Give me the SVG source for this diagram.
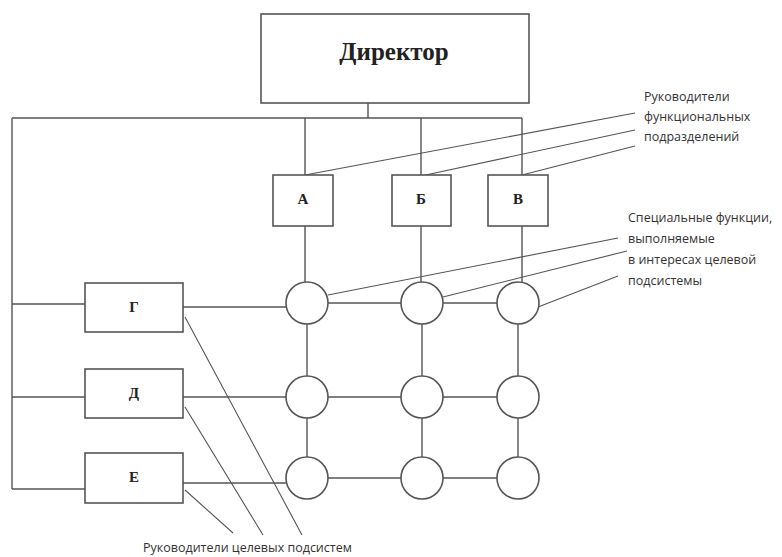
<svg xmlns="http://www.w3.org/2000/svg" width="782" height="557" viewBox="0 0 782 557">
<style>
.box{fill:#fff;stroke:#555;stroke-width:1.6}
.c{fill:#fff;stroke:#555;stroke-width:1.6}
.ln{fill:none;stroke:#555;stroke-width:1.4}
.lt{fill:none;stroke:#555;stroke-width:1.1}
.big{font-family:"Liberation Serif",serif;font-weight:bold;font-size:25px;fill:#222;text-anchor:middle}
.lbl{font-family:"Liberation Serif",serif;font-weight:bold;font-size:15px;fill:#222;text-anchor:middle}
.sm{font-family:"Open Sans",sans-serif;font-size:12.5px;fill:#333}
</style>
<rect width="782" height="557" fill="#fff"/>
<g id="connectors">
<path class="ln" d="M368,103V118M12,118H522M305,118V175M421,118V175M522,118V175"/>
<path class="ln" d="M12,118V489M12,304H85M12,397H85M12,489H85"/>
<path class="ln" d="M305,226V282M421,226V282M522,226V282"/>
<path class="ln" d="M183,307H286M183,397H286M183,483H286"/>
<path class="ln" d="M328,303H401M443,303H497M328,397H401M443,397H497M328,478H401M443,478H497"/>
<path class="ln" d="M307,324V376M422,324V376M518,324V376M307,418V457M422,418V457M518,418V457"/>
<path class="lt" d="M635,113L305,175M635,130L421,176M635,146L522,175"/>
<path class="lt" d="M618,238L328,295M627,251L443,297M618,276L538,307"/>
<path class="lt" d="M185,317L302,535M185,407L263,535M185,490L233,533"/>
</g>
<g id="director"><rect class="box" x="261" y="14" width="268" height="89"/><text class="big" x="394" y="60">Директор</text></g>
<g id="A"><rect class="box" x="273" y="175" width="60" height="51"/><text class="lbl" x="303" y="204">А</text></g>
<g id="B"><rect class="box" x="392" y="175" width="59" height="51"/><text class="lbl" x="421" y="204">Б</text></g>
<g id="V"><rect class="box" x="488" y="175" width="60" height="51"/><text class="lbl" x="518" y="204">В</text></g>
<g id="G"><rect class="box" x="85" y="283" width="98" height="49"/><text class="lbl" x="134" y="312">Г</text></g>
<g id="D"><rect class="box" x="85" y="369" width="98" height="49"/><text class="lbl" x="134" y="398">Д</text></g>
<g id="E"><rect class="box" x="85" y="453" width="98" height="50"/><text class="lbl" x="134" y="482">Е</text></g>
<g id="circles">
<circle class="c" cx="307" cy="303" r="21"/><circle class="c" cx="422" cy="303" r="21"/><circle class="c" cx="518" cy="303" r="21"/>
<circle class="c" cx="307" cy="397" r="21"/><circle class="c" cx="422" cy="397" r="21"/><circle class="c" cx="518" cy="397" r="21"/>
<circle class="c" cx="307" cy="478" r="21"/><circle class="c" cx="422" cy="478" r="21"/><circle class="c" cx="518" cy="478" r="21"/>
</g>
<g id="label-func">
<text class="sm" x="644" y="101">Руководители</text>
<text class="sm" x="644" y="121">функциональных</text>
<text class="sm" x="644" y="141">подразделений</text>
</g>
<g id="label-special">
<text class="sm" x="628" y="222">Специальные функции,</text>
<text class="sm" x="628" y="243">выполняемые</text>
<text class="sm" x="628" y="264">в интересах целевой</text>
<text class="sm" x="628" y="285">подсистемы</text>
</g>
<g id="label-target"><text class="sm" x="143" y="552">Руководители целевых подсистем</text></g>
</svg>
